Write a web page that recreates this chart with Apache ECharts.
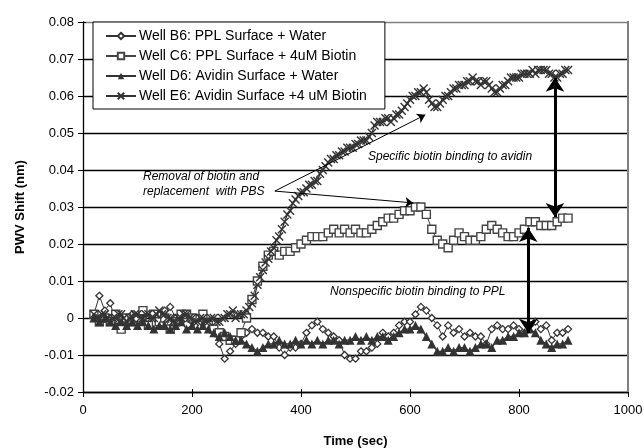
<!DOCTYPE html>
<html>
<head>
<meta charset="utf-8">
<script src="https://cdn.jsdelivr.net/npm/echarts@6/dist/echarts.min.js"></script>
<style>
  html, body { margin: 0; padding: 0; background: #fff; }
  #chart { width: 644px; height: 448px; }
</style>
</head>
<body>
<div id="chart"></div>
<script>
// Sampling times (sec) for wells B6, C6, D6
const times = [20, 30, 40, 50, 60, 70, 80, 90, 100, 110, 120, 130, 140, 150, 160, 170, 180, 190, 200, 210,
  220, 230, 240, 250, 260, 270, 280, 290, 300, 310, 320, 330, 340, 350, 360, 370, 380, 390, 400, 410,
  420, 430, 440, 450, 460, 470, 480, 490, 500, 510, 520, 530, 540, 550, 560, 570, 580, 590, 600, 610,
  620, 630, 640, 650, 660, 670, 680, 690, 700, 710, 720, 730, 740, 750, 760, 770, 780, 790, 800, 810,
  820, 830, 840, 850, 860, 870, 880, 890];

// Finer sampling times (sec) for well E6
const timesE6 = [20, 25, 30, 35, 40, 45, 50, 55, 60, 65, 70, 75, 80, 85, 90, 95, 100, 105, 110, 115,
  120, 125, 130, 135, 140, 145, 150, 155, 160, 165, 170, 175, 180, 185, 190, 195, 200, 205, 210, 215,
  220, 225, 230, 235, 240, 245, 250, 255, 260, 265, 270, 275, 280, 285, 290, 295, 300, 305, 310, 315,
  320, 325, 330, 335, 340, 345, 350, 355, 360, 365, 370, 375, 380, 385, 390, 395, 400, 405, 410, 415,
  420, 425, 430, 435, 440, 445, 450, 455, 460, 465, 470, 475, 480, 485, 490, 495, 500, 505, 510, 515,
  520, 525, 530, 535, 540, 545, 550, 555, 560, 565, 570, 575, 580, 585, 590, 595, 600, 605, 610, 615,
  620, 625, 630, 635, 640, 645, 650, 655, 660, 665, 670, 675, 680, 685, 690, 695, 700, 705, 710, 715,
  720, 725, 730, 735, 740, 745, 750, 755, 760, 765, 770, 775, 780, 785, 790, 795, 800, 805, 810, 815,
  820, 825, 830, 835, 840, 845, 850, 855, 860, 865, 870, 875, 880, 885, 890];

// PWV shift (nm) per well
const wellB6 = [0.001, 0.006, 0.002, 0.004, -0.001, 0.000, -0.002, 0.001, -0.001, 0.000, -0.002, 0.001, -0.001, 0.002, 0.003, 0.000, -0.001, 0.001, -0.001, 0.000,
  -0.002, -0.001, -0.003, -0.007, -0.011, -0.009, -0.007, -0.005, -0.004, -0.003, -0.004, -0.004, -0.005, -0.005, -0.008, -0.010, -0.008, -0.008, -0.007, -0.004,
  -0.002, -0.001, -0.003, -0.004, -0.005, -0.006, -0.010, -0.011, -0.011, -0.009, -0.009, -0.008, -0.007, -0.004, -0.005, -0.004, -0.002, -0.001, -0.001, 0.001,
  0.003, 0.002, 0.000, -0.002, -0.005, -0.002, -0.004, -0.003, -0.005, -0.004, -0.005, -0.005, -0.007, -0.003, -0.002, -0.003, -0.003, -0.002, -0.003, -0.004,
  -0.002, -0.001, -0.003, -0.002, -0.006, -0.004, -0.004, -0.003];

const wellC6 = [0.001, -0.001, 0.000, -0.001, 0.001, -0.003, 0.000, -0.001, 0.000, 0.002, -0.002, 0.001, -0.001, 0.000, -0.003, -0.001, 0.001, 0.001, 0.000, -0.002,
  0.001, -0.002, -0.003, -0.004, -0.005, -0.006, -0.006, -0.004, 0.000, 0.005, 0.010, 0.014, 0.017, 0.018, 0.017, 0.018, 0.018, 0.019, 0.020, 0.021,
  0.022, 0.022, 0.022, 0.023, 0.024, 0.023, 0.024, 0.023, 0.024, 0.023, 0.023, 0.024, 0.025, 0.026, 0.027, 0.027, 0.028, 0.029, 0.029, 0.030,
  0.030, 0.028, 0.024, 0.021, 0.020, 0.019, 0.021, 0.023, 0.022, 0.021, 0.021, 0.022, 0.024, 0.025, 0.024, 0.023, 0.022, 0.022, 0.023, 0.024,
  0.026, 0.026, 0.025, 0.025, 0.025, 0.026, 0.027, 0.027];

const wellD6 = [0.000, -0.001, 0.000, -0.001, -0.002, -0.001, -0.002, -0.001, -0.002, -0.001, -0.002, -0.003, -0.002, -0.002, -0.003, -0.002, -0.001, -0.003, -0.002, -0.003,
  -0.002, -0.003, -0.004, -0.005, -0.004, -0.005, -0.006, -0.006, -0.007, -0.008, -0.009, -0.008, -0.007, -0.007, -0.006, -0.007, -0.007, -0.006, -0.007, -0.006,
  -0.007, -0.006, -0.007, -0.006, -0.006, -0.007, -0.006, -0.006, -0.005, -0.006, -0.005, -0.006, -0.005, -0.005, -0.006, -0.005, -0.004, -0.003, -0.003, -0.002,
  -0.003, -0.005, -0.007, -0.009, -0.009, -0.008, -0.009, -0.008, -0.008, -0.009, -0.008, -0.007, -0.007, -0.008, -0.006, -0.006, -0.005, -0.005, -0.004, -0.004,
  -0.003, -0.004, -0.006, -0.007, -0.008, -0.007, -0.007, -0.006];

const wellE6 = [0.001, 0.000, 0.000, 0.001, 0.001, 0.000, -0.001, 0.000, 0.000, 0.001, 0.001, 0.000, -0.001, 0.000, 0.000, 0.001, 0.001, 0.000, 0.000, 0.001,
  0.001, 0.000, 0.000, 0.001, 0.002, 0.001, 0.001, 0.000, 0.000, -0.001, -0.001, 0.000, 0.000, 0.001, 0.001, 0.000, 0.000, -0.001, -0.001, 0.000,
  0.000, -0.001, -0.001, 0.000, 0.000, -0.001, -0.001, 0.000, 0.000, 0.001, 0.001, 0.002, 0.000, 0.001, 0.001, 0.001, 0.002, 0.003, 0.004, 0.006,
  0.009, 0.011, 0.013, 0.015, 0.016, 0.018, 0.019, 0.021, 0.022, 0.024, 0.026, 0.028, 0.029, 0.031, 0.032, 0.033, 0.034, 0.034, 0.035, 0.036,
  0.036, 0.037, 0.037, 0.039, 0.040, 0.041, 0.042, 0.043, 0.043, 0.044, 0.044, 0.045, 0.045, 0.046, 0.046, 0.046, 0.047, 0.047, 0.048, 0.048,
  0.048, 0.049, 0.050, 0.052, 0.053, 0.053, 0.053, 0.054, 0.054, 0.053, 0.054, 0.055, 0.055, 0.056, 0.057, 0.058, 0.059, 0.060, 0.060, 0.061,
  0.061, 0.062, 0.061, 0.059, 0.058, 0.057, 0.057, 0.058, 0.059, 0.060, 0.060, 0.061, 0.062, 0.062, 0.063, 0.063, 0.063, 0.064, 0.064, 0.065,
  0.064, 0.064, 0.063, 0.064, 0.064, 0.063, 0.062, 0.061, 0.061, 0.062, 0.063, 0.063, 0.064, 0.065, 0.065, 0.065, 0.065, 0.066, 0.066, 0.066,
  0.066, 0.067, 0.066, 0.067, 0.067, 0.067, 0.067, 0.066, 0.066, 0.065, 0.065, 0.066, 0.066, 0.067, 0.067];

const seriesNames = [
  'Well B6: PPL Surface + Water',
  'Well C6: PPL Surface + 4uM Biotin',
  'Well D6: Avidin Surface + Water',
  'Well E6: Avidin Surface +4 uM Biotin'
];

const xTicks = { min: 0, max: 1000, step: 200 };
const yTicks = { min: -0.02, max: 0.08, step: 0.01 };

const FONT = 'Liberation Sans, Arial, sans-serif';
const INK = '#333333';

const pairs = (ts, vals) => ts.map((t, i) => [t, vals[i]]);

const chart = echarts.init(document.getElementById('chart'), null, { renderer: 'canvas' });

// Split-line colours: black grid, grey top border line
const splitColors = [];
for (let i = 0; i <= 10; i++) splitColors.push(i === 10 ? '#808080' : '#000000');

const arrowThin = { color: '#000', width: 1, type: 'solid' };
const arrowBold = { color: '#000', width: 3, type: 'solid' };

// Secondary axes only carry the inner half of the crossing tick marks
const innerTicksX = {
  type: 'value', min: xTicks.min, max: xTicks.max, interval: xTicks.step, position: 'bottom',
  axisLine: { show: false, onZero: false }, axisLabel: { show: false }, splitLine: { show: false },
  axisTick: { show: true, inside: true, length: 3, lineStyle: { color: '#000' } }
};
const innerTicksY = {
  type: 'value', min: yTicks.min, max: yTicks.max, interval: yTicks.step, position: 'left',
  axisLine: { show: false, onZero: false }, axisLabel: { show: false }, splitLine: { show: false },
  axisTick: { show: true, inside: true, length: 3, lineStyle: { color: '#000' } }
};

chart.setOption({
  animation: false,
  backgroundColor: '#fff',
  textStyle: { fontFamily: FONT },
  grid: { left: 83, right: 16, top: 22, bottom: 56, show: false, containLabel: false, outerBoundsMode: 'none' },
  legend: {
    orient: 'vertical',
    left: 93,
    top: 22,
    padding: [6, 18, 5, 12],
    itemWidth: 30,
    itemHeight: 8,
    itemGap: 4,
    backgroundColor: '#fff',
    borderColor: '#000',
    borderWidth: 1,
    borderRadius: 0,
    textStyle: { fontFamily: FONT, fontSize: 14, lineHeight: 16, color: '#000', padding: [0, 0, 0, -2] },
    data: seriesNames
  },
  xAxis: [{
    type: 'value',
    min: xTicks.min, max: xTicks.max, interval: xTicks.step, position: 'bottom',
    name: 'Time (sec)', nameLocation: 'middle', nameGap: 43,
    nameTextStyle: { fontFamily: FONT, fontSize: 13, fontWeight: 'bold', color: '#000' },
    axisLine: { onZero: false, lineStyle: { color: '#000', width: 1.3 } },
    axisTick: { show: true, length: 5, lineStyle: { color: '#000' } },
    axisLabel: { fontFamily: FONT, fontSize: 13, color: '#000', margin: 12, formatter: v => String(v) },
    splitLine: { show: false }
  }, innerTicksX],
  yAxis: [{
    type: 'value',
    min: yTicks.min, max: yTicks.max, interval: yTicks.step, position: 'left',
    name: 'PWV Shift (nm)', nameLocation: 'middle', nameGap: 56,
    nameTextStyle: { fontFamily: FONT, fontSize: 13, fontWeight: 'bold', color: '#000' },
    axisLine: { show: true, onZero: false, lineStyle: { color: '#000', width: 1.3 } },
    axisTick: { show: true, length: 5, lineStyle: { color: '#000' } },
    axisLabel: {
      fontFamily: FONT, fontSize: 13, color: '#000', margin: 9,
      formatter: v => (Math.abs(v) < 1e-9 ? '0' : v.toFixed(2))
    },
    splitLine: { show: true, lineStyle: { color: splitColors, width: 1.3 } }
  }, innerTicksY],
  graphic: [
    // right plot border
    { type: 'line', z: 5, shape: { x1: 628, y1: 21, x2: 628, y2: 392 }, style: { stroke: '#808080', lineWidth: 2 } },
    { type: 'text', z: 10, left: 143, top: 171,
      style: { text: 'Removal of biotin and', font: 'italic 12px ' + FONT, fill: '#000' } },
    { type: 'text', z: 10, left: 143, top: 186,
      style: { text: 'replacement  with PBS', font: 'italic 12px ' + FONT, fill: '#000' } },
    { type: 'text', z: 10, left: 368, top: 151,
      style: { text: 'Specific biotin binding to avidin', font: 'italic 12px ' + FONT, fill: '#000' } },
    { type: 'text', z: 10, left: 330, top: 286,
      style: { text: 'Nonspecific biotin binding to PPL', font: 'italic 12px ' + FONT, fill: '#000' } }
  ],
  series: [
    {
      name: seriesNames[0], type: 'line', data: pairs(times, wellB6),
      symbol: 'diamond', symbolSize: 7, showAllSymbol: true,
      lineStyle: { color: INK, width: 1 },
      itemStyle: { color: '#fff', borderColor: INK, borderWidth: 1.3 }
    },
    {
      name: seriesNames[1], type: 'line', data: pairs(times, wellC6),
      symbol: 'rect', symbolSize: 8, showAllSymbol: true,
      lineStyle: { color: '#444', width: 1 },
      itemStyle: { color: '#fff', borderColor: '#444', borderWidth: 1.4 }
    },
    {
      name: seriesNames[2], type: 'line', data: pairs(times, wellD6),
      symbol: 'triangle', symbolSize: 9, showAllSymbol: true,
      lineStyle: { color: INK, width: 1.3 },
      itemStyle: { color: INK, borderColor: INK, borderWidth: 0 }
    },
    {
      name: seriesNames[3], type: 'line', data: pairs(timesE6, wellE6),
      symbol: 'path://M0,0L10,10M10,0L0,10', symbolSize: 8, showAllSymbol: true,
      lineStyle: { color: INK, width: 1.3 },
      itemStyle: { color: 'rgba(0,0,0,0)', borderColor: INK, borderWidth: 1.4 },
      markLine: {
        silent: true,
        symbol: ['none', 'arrow'],
        label: { show: false },
        z: 20,
        data: [
          [{ coord: [352, 0.0343], symbol: 'none', lineStyle: arrowThin },
           { coord: [628, 0.0549], symbol: 'arrow', symbolSize: 8 }],
          [{ coord: [352, 0.0343], symbol: 'none', lineStyle: arrowThin },
           { coord: [606, 0.0311], symbol: 'arrow', symbolSize: 8 }],
          [{ coord: [866, 0.0273], symbol: 'arrow', symbolSize: 14, lineStyle: arrowBold },
           { coord: [866, 0.0649], symbol: 'arrow', symbolSize: 14 }],
          [{ coord: [817, 0.0243], symbol: 'arrow', symbolSize: 14, lineStyle: arrowBold },
           { coord: [817, -0.004], symbol: 'arrow', symbolSize: 14 }]
        ]
      }
    }
  ]
});
</script>
</body>
</html>
